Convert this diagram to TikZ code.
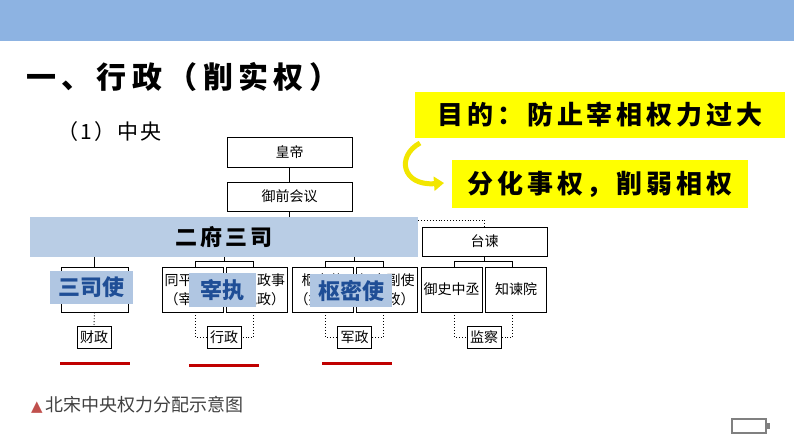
\documentclass[tikz,border=0pt]{standalone}
\usepackage{fontspec}
\setmainfont{Noto Sans CJK SC}
\newfontfamily\dejavu{DejaVu Sans}
\usetikzlibrary{arrows.meta,calc}
\definecolor{topbar}{HTML}{8DB3E2}
\definecolor{bandblue}{HTML}{B9CDE5}
\definecolor{lblblue}{HTML}{B0C6E2}
\definecolor{lbltext}{HTML}{1F4E96}
\definecolor{redline}{HTML}{C00000}
\definecolor{capred}{HTML}{C0504D}
\definecolor{capgray}{HTML}{404040}
\definecolor{batgray}{HTML}{808080}
\definecolor{ylw}{HTML}{FFFF00}
\definecolor{yarrowc}{HTML}{F2E600}
\begin{document}
\begin{tikzpicture}[x=1pt,y=-1pt,
  box/.style={draw=black, line width=0.9pt, fill=white, inner sep=0pt, align=center,
    font=\fontsize{14}{19}\selectfont},
  lbox/.style={box, minimum width=61pt, minimum height=45pt},
  sbox/.style={box, minimum width=34pt, minimum height=22pt},
  conn/.style={draw=black, line width=0.8pt},
  dotline/.style={draw=black, line width=0.9pt, dotted},
  lbl/.style={fill=lblblue, inner sep=0pt, text=lbltext,
    font=\fontsize{22}{26}\selectfont\bfseries},
  ybox/.style={fill=ylw, inner sep=0pt,
    font=\fontsize{26}{30}\selectfont\bfseries\addfontfeatures{LetterSpace=15}},
  redbar/.style={draw=redline, line width=3pt},
  yarrow/.style={draw=yarrowc, line width=5pt, -{Triangle[length=10pt,width=14pt]}}]
\useasboundingbox (0,0) rectangle (794,447);
\fill[topbar] (0,0) rectangle (794,41);

% title and subtitle
\node[anchor=west, inner sep=0pt, font=\fontsize{30}{34}\selectfont\bfseries\addfontfeatures{LetterSpace=18}] (title) at (26,77) {一、行政（削实权）};
\node[anchor=west, inner sep=0pt, font=\fontsize{21}{24}\selectfont\addfontfeatures{LetterSpace=10}] (sub) at (57,132) {（1）中央};

% yellow boxes
\node[ybox, minimum width=370pt, minimum height=46pt] (y1) at (600,115) {目的：防止宰相权力过大};
\node[ybox, minimum width=296pt, minimum height=48pt] (y2) at (600,184) {分化事权，削弱相权};
\coordinate (as) at (420,143);
\coordinate (ae) at (444,183);
\draw[yarrow] (as) .. controls (396,156) and (402,186) .. (ae);

% top of hierarchy
\node[box, minimum width=125pt, minimum height=30pt] (hd) at (289.5,152) {皇帝};
\node[box, minimum width=125pt, minimum height=29pt] (yq) at (289.5,196.5) {御前会议};
\draw[conn] (hd) -- (yq);

\node[fill=bandblue, inner sep=0pt, minimum width=388pt, minimum height=40pt,
  font=\fontsize{22}{26}\selectfont\bfseries\addfontfeatures{LetterSpace=15}] (band) at (224,237) {二府三司};
\draw[conn] (yq.south) -- (yq.south |- band.north);

\node[box, minimum width=125pt, minimum height=29pt] (tj) at (484.5,241.5) {台谏};
\coordinate (tjd) at (484.5,220);
\draw[dotline] (tjd -| band.east) -- (tjd) -- (tj.north);

% lower boxes
\node[lbox, minimum width=67pt] (ss) at (94.5,289.5) {};
\node[lbox] (zx1) at (192.5,289.5) {同平章事\\（宰相）};
\node[lbox] (zx2) at (257,289.5) {参知政事\\（执政）};
\node[lbox] (sm1) at (322.5,289.5) {枢密使\\（执政）};
\node[lbox] (sm2) at (386.5,289.5) {枢密副使\\（执政）};
\node[lbox] (ys) at (451.5,289.5) {御史中丞};
\node[lbox] (zj) at (516,289.5) {知谏院};

\node[sbox] (cz) at (94,337) {财政};
\node[sbox] (xz) at (224,337) {行政};
\node[sbox] (jz) at (354.5,337) {军政};
\node[sbox] (jc) at (484,337) {监察};

% 三司使
\draw[conn] (band.south -| ss.north) -- (ss.north);
\draw[dotline] (ss.south) -- (cz.north);

% 宰执
\coordinate (zxl) at (195.75,261);
\coordinate (zxr) at (253.75,261);
\draw[conn] (band.south -| xz.north) -- (xz.north |- zxl);
\draw[conn] (zxl |- zx1.north) -- (zxl) -- (zxr) -- (zxr |- zx2.north);
\draw[dotline] (zxl |- zx1.south) |- (xz.west);
\draw[dotline] (zxr |- zx2.south) |- (xz.east);

% 枢密
\coordinate (sml) at (325.5,261);
\coordinate (smr) at (383.5,261);
\draw[conn] (band.south -| jz.north) -- (jz.north |- sml);
\draw[conn] (sml |- sm1.north) -- (sml) -- (smr) -- (smr |- sm2.north);
\draw[dotline] (sml |- sm1.south) |- (jz.west);
\draw[dotline] (smr |- sm2.south) |- (jz.east);

% 台谏
\coordinate (tjl) at (454.75,261);
\coordinate (tjr) at (512.75,261);
\draw[conn] (tj.south) -- (tj.south |- tjl);
\draw[conn] (tjl |- ys.north) -- (tjl) -- (tjr) -- (tjr |- zj.north);
\draw[dotline] (tjl |- ys.south) |- (jc.west);
\draw[dotline] (tjr |- zj.south) |- (jc.east);

% blue labels
\node[lbl, minimum width=83pt, minimum height=33pt] (l1) at (91.5,287.5) {三司使};
\node[lbl, minimum width=67pt, minimum height=34pt] (l2) at (222.5,290) {宰执};
\node[lbl, minimum width=82pt, minimum height=33pt] (l3) at (351,290.5) {枢密使};

% red underlines
\draw[redbar] (60,363) -- (130,363);
\draw[redbar] (189,365) -- (259,365);
\draw[redbar] (322,363) -- (392,363);

% caption
\node[anchor=west, inner sep=0pt, text=capgray, font=\fontsize{18}{22}\selectfont] (cap) at (31,405)
  {{\dejavu\fontsize{15}{17}\selectfont\color{capred}▲}\hspace{3pt}北宋中央权力分配示意图};

% battery icon
\draw[batgray, line width=2pt] (732,419) rectangle (766,433);
\fill[batgray] (766,423) rectangle (770,429);
\end{tikzpicture}
\end{document}
